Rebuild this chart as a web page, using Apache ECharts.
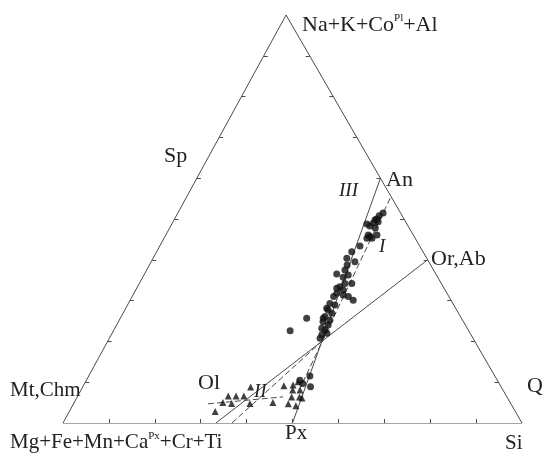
<!DOCTYPE html>
<html><head><meta charset="utf-8">
<script src="https://cdn.jsdelivr.net/npm/echarts/dist/echarts.min.js"></script>
<style>html,body{margin:0;padding:0;background:#fff}#c{width:544px;height:457px}</style>
</head><body><div id="c"></div>
<script>
// Compositions in percent. A = Na+K+Ca(Pl)+Al (top apex), S = Si (bottom right); rest = Mg+Fe+Mn+Ca(Px)+Cr+Ti
const circleA  = [51.5,50.8,50.0,49.8,49.3,49.1,48.8,48.3,47.8,46.1,45.7,45.3,45.3,46.1,43.4,42.0,39.5,40.4,36.5,36.3,34.2,33.4,34.2,31.8,31.4,31.0,31.0,30.1,29.3,28.9,28.1,26.9,26.1,25.2,24.8,24.0,23.2,22.8,21.6,22.0,20.8,25.7,22.6,11.5,10.5,9.7,8.9,38.7,37.5,35.7,33.0,32.6,27.7,25.7];
const circleSi = [44.7,44.2,44.1,43.8,44.7,43.8,42.5,43.4,44.8,44.1,44.7,45.3,44.2,46.0,43.6,42.5,44.4,42.2,41.9,44.5,44.8,44.1,46.3,44.2,45.8,43.9,47.1,48.6,43.9,45.2,43.8,45.5,44.4,45.9,44.6,46.1,45.1,46.0,45.9,46.8,45.9,40.6,38.5,48.2,46.5,47.5,49.6,43.1,43.2,43.7,43.6,45.2,44.3,44.2];
const triangleA  = [8.8,6.6,6.6,6.6,5.0,4.8,4.8,2.8,5.0,9.1,9.3,10.1,8.1,8.1,6.4,6.4,6.1,4.7,4.2];
const triangleSi = [36.6,32.8,34.5,36.2,32.4,34.4,38.4,31.8,43.3,43.7,45.6,46.3,46.1,47.7,46.7,48.4,49.1,46.8,48.7];
// Reference phases [A, S]
const phaseOl = [0, 33.3], phasePx = [0, 50], phaseAn = [60, 40], phaseOrAb = [40, 60];
// Trend lines [A, S] endpoints
const trendI   = [[55.1, 44.5], [8.6, 47.5]];
const trendII  = [[4.7, 29.3], [6.4, 44.8]];
const trendAux = [[0, 36.8], [20, 46.67]];
const tickSteps = [10,20,30,40,50,60,70,80,90];

const APEX_X = 0.486;
function proj(p){ return [p[1]/100 + p[0]/100*APEX_X, p[0]/100]; }

const frame = [[[0,0],[0,100]],[[0,100],[100,0]],[[100,0],[0,0]]].map(s=>({coords:s.map(proj)}));
const ticks = [];
const tx = 4/459, ty = 4/408;
tickSteps.forEach(v=>{
  const b = proj([0, v]); ticks.push({coords:[b,[b[0], b[1]+ty]]});
  const l = proj([v, 0]); ticks.push({coords:[l,[l[0]+tx, l[1]]]});
  const r = proj([v, 100-v]); ticks.push({coords:[r,[r[0]-tx, r[1]]]});
});
const solidLines = [[phaseOl, phaseOrAb],[phasePx, phaseAn]].map(s=>({coords:s.map(proj)}));
const dashedLines = [trendI, trendII, trendAux].map(s=>({coords:s.map(proj)}));

const FONT = '"Liberation Serif", "Times New Roman", serif';
function txt(text, x, y, size, italic, rich){
  const st = {text, x, y, fill:'#222', font:(italic?'italic ':'')+size+'px '+FONT, verticalAlign:'middle', align:'left'};
  if (rich) st.rich = rich;
  return {type:'text', style:st, z:100};
}
const supRich = size => ({
  m:{fontSize:size, fontFamily:FONT, fill:'#222', lineHeight:size+2},
  s:{fontSize:Math.round(size*0.52), fontFamily:FONT, fill:'#222', verticalAlign:'top'}
});

const chart = echarts.init(document.getElementById('c'), null, {renderer:'canvas'});
chart.setOption({
  animation:false,
  backgroundColor:'#fff',
  grid:{left:63, top:15, width:459, height:408},
  xAxis:{type:'value', min:0, max:1, show:false},
  yAxis:{type:'value', min:0, max:1, show:false},
  series:[
    {type:'lines', coordinateSystem:'cartesian2d', polyline:false, data:frame, lineStyle:{color:'#4a4a4a', width:1, opacity:1}, silent:true},
    {type:'lines', coordinateSystem:'cartesian2d', data:ticks, lineStyle:{color:'#4a4a4a', width:1, opacity:1}, silent:true},
    {type:'lines', coordinateSystem:'cartesian2d', data:solidLines, lineStyle:{color:'#4a4a4a', width:1, opacity:1}, silent:true},
    {type:'lines', coordinateSystem:'cartesian2d', data:dashedLines, lineStyle:{color:'#4a4a4a', width:1, type:[6,3], opacity:1}, silent:true},
    {type:'scatter', symbol:'circle', symbolSize:7, itemStyle:{color:'#111'}, data:circleA.map((a,i)=>proj([a, circleSi[i]])), z:10},
    {type:'scatter', symbol:'triangle', symbolSize:7, itemStyle:{color:'#111'}, data:triangleA.map((a,i)=>proj([a, triangleSi[i]])), z:10}
  ],
  graphic:[
    txt('{m|Na+K+Co}{s|Pl}{m|+Al}', 302, 25, 22, false, supRich(22)),
    txt('Sp', 164, 156, 22),
    txt('An', 386, 180, 22),
    txt('Or,Ab', 431, 259, 22),
    txt('Ol', 198, 383, 22),
    txt('Mt,Chm', 10, 390, 21),
    txt('Q', 527, 386, 22),
    txt('{m|Mg+Fe+Mn+Ca}{s|Px}{m|+Cr+Ti}', 10, 442, 21, false, supRich(21)),
    txt('Px', 285, 433, 21),
    txt('Si', 505, 443, 21),
    txt('III', 339, 191, 19, true),
    txt('I', 379, 247, 19, true),
    txt('II', 254, 392, 19, true)
  ]
});
</script></body></html>
